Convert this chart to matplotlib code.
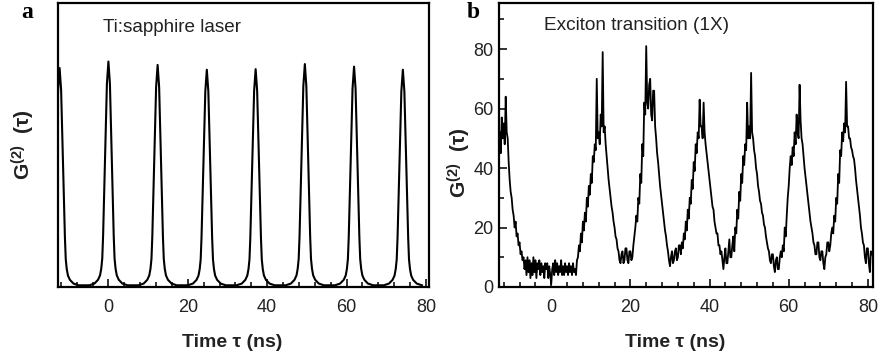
import matplotlib.pyplot as plt
import numpy as np
from matplotlib.ticker import MultipleLocator

plt.rcParams['mathtext.fontset'] = 'custom'
plt.rcParams['mathtext.bf'] = 'Liberation Sans:bold'
plt.rcParams['mathtext.rm'] = 'Liberation Sans'

# panel a: Ti:sapphire laser
peak_t = [-12.3, 0.0, 12.4, 24.8, 37.1, 49.5, 61.9, 74.2]
peak_h = [77.1, 79.4, 78.2, 76.5, 76.7, 78.5, 77.6, 76.5]
# one peak profile (offset in ns, fraction of peak height)
prof_dt = [-4.8, -3.5, -2.6, -2.1, -1.8, -1.55, -1.34, -1.13, -0.8, -0.38, 0.0,
           0.38, 0.8, 1.13, 1.34, 1.55, 1.8, 2.1, 2.6, 3.5, 4.8]
prof_f = [0.0, 0.008, 0.025, 0.045, 0.075, 0.12, 0.22, 0.37, 0.6, 0.9, 1.0,
          0.9, 0.6, 0.37, 0.22, 0.12, 0.075, 0.045, 0.025, 0.008, 0.0]
base_a = 0.6

# panel b: exciton transition (1X), sampled every 0.25 ns from -13 ns
t_b = np.arange(-13.0, 81.01, 0.25)
g_b = [52, 45, 57, 50, 55, 48, 64, 52,
       50, 42, 36, 32, 30, 26, 24, 20,
       22, 17, 18, 14, 15, 11, 12, 9,
       10, 6, 9, 4, 10, 5, 9, 3,
       8, 4, 10, 5, 9, 3, 8, 6,
       9, 4, 8, 5, 7, 3, 8, 6,
       8, 3, 7, 4, 1, 6, 8, 4,
       9, 5, 8, 4, 7, 5, 9, 4,
       7, 4, 8, 5, 7, 4, 8, 5,
       7, 4, 8, 5, 6, 4, 9, 10,
       14, 12, 18, 15, 22, 19, 25, 22,
       30, 27, 34, 31, 38, 35, 44, 42,
       48, 46, 70, 50, 52, 48, 58, 54,
       79, 52, 54, 48, 44, 40, 36, 33,
       30, 27, 25, 22, 20, 17, 16, 13,
       12, 9, 8, 11, 12, 8, 9, 13,
       13, 9, 8, 12, 12, 9, 10, 14,
       17, 20, 24, 22, 30, 28, 38, 35,
       48, 44, 62, 58, 81, 62, 60, 68,
       70, 58, 56, 66, 66, 54, 50, 45,
       42, 38, 34, 31, 28, 25, 22, 19,
       17, 14, 12, 9, 7, 10, 12, 8,
       9, 12, 13, 9, 10, 14, 14, 11,
       15, 13, 18, 16, 22, 19, 26, 23,
       30, 28, 36, 33, 42, 39, 48, 45,
       52, 50, 63, 54, 54, 50, 62, 52,
       48, 45, 42, 39, 36, 33, 30, 27,
       26, 22, 20, 18, 18, 14, 14, 11,
       12, 9, 6, 10, 13, 8, 8, 12,
       16, 10, 10, 14, 17, 12, 20, 18,
       26, 23, 32, 29, 38, 35, 44, 41,
       48, 46, 62, 50, 54, 50, 72, 52,
       50, 46, 44, 40, 38, 34, 32, 29,
       28, 25, 24, 21, 20, 17, 15, 13,
       12, 9, 8, 11, 11, 7, 5, 9,
       10, 6, 6, 10, 12, 10, 14, 12,
       20, 17, 24, 30, 34, 40, 44, 41,
       47, 44, 52, 48, 58, 52, 50, 68,
       56, 50, 48, 44, 40, 37, 34, 31,
       28, 25, 22, 20, 18, 15, 14, 11,
       11, 15, 15, 10, 9, 12, 12, 8,
       6, 10, 11, 15, 15, 12, 14, 18,
       20, 18, 24, 22, 30, 28, 38, 35,
       46, 44, 52, 49, 55, 52, 69, 54,
       54, 50, 50, 47, 46, 44, 43, 40,
       36, 33, 30, 27, 24, 20, 18, 15,
       14, 10, 8, 13, 13, 8, 5, 12,
       11]

ta = []
ga = []
for c, h in zip(peak_t, peak_h):
    for dt, f in zip(prof_dt, prof_f):
        ta.append(c + dt)
        ga.append(base_a + f * (h - base_a))

fig = plt.figure(figsize=(8.83, 3.57), dpi=100)
axa = fig.add_axes([0.0657, 0.1961, 0.4202, 0.7955])
axb = fig.add_axes([0.5651, 0.1961, 0.4236, 0.7955])

axa.plot(ta, ga, color='black', lw=1.5)
axb.plot(t_b, g_b, color='black', lw=1.3)

axa.set_xlim(-12.7, 80.8)
axa.set_ylim(0, 100)
axb.set_xlim(-13.2, 81.3)
axb.set_ylim(0, 95.5)

tickfont = ['Liberation Sans Narrow', 'Liberation Sans', 'DejaVu Sans']
for ax in (axa, axb):
    for s in ax.spines.values():
        s.set_linewidth(1.6)
    ax.xaxis.set_major_locator(MultipleLocator(20))
    ax.xaxis.set_minor_locator(MultipleLocator(4))
    ax.tick_params(axis='both', which='major', direction='in', length=6,
                   width=1.3, labelsize=13, colors='#222222')
    ax.tick_params(axis='both', which='minor', direction='in', length=3.5,
                   width=1.1)
    ax.tick_params(axis='x', which='major', pad=9)
    ax.tick_params(axis='y', which='major', pad=4)
    for lab in ax.get_xticklabels() + ax.get_yticklabels():
        lab.set_family(tickfont)
    ax.set_xlabel('Time τ (ns)', fontsize=14, fontweight='bold',
                  family='Liberation Sans', color='#222222')

axa.set_yticks([])
axb.yaxis.set_major_locator(MultipleLocator(20))
axb.yaxis.set_minor_locator(MultipleLocator(10))
for lab in axb.get_yticklabels():
    lab.set_family(tickfont)

ylab = r'$\mathbf{G^{(2)}}\;\;\mathbf{(\tau)}$'
axa.set_ylabel(ylab, fontsize=15, color='#222222')
axb.set_ylabel(ylab, fontsize=15, color='#222222')
axa.xaxis.set_label_coords(0.469, -0.165)
axb.xaxis.set_label_coords(0.47, -0.165)
axa.yaxis.set_label_coords(-0.057, 0.5)
axb.yaxis.set_label_coords(-0.07, 0.437)

fig.text(103 / 883, 1 - 28 / 357, 'Ti:sapphire laser', fontsize=13.6,
         family='Liberation Sans', color='#222222', va='center')
fig.text(544 / 883, 1 - 25 / 357, 'Exciton transition (1X)', fontsize=13.7,
         family='Liberation Sans', color='#222222', va='center')
fig.text(21 / 883, 1 - 18 / 357, 'a', fontsize=17, fontweight='bold',
         family='Liberation Serif', va='baseline')
fig.text(467 / 883, 1 - 18 / 357, 'b', fontsize=17, fontweight='bold',
         family='Liberation Serif', va='baseline')

fig.savefig('out.png', dpi=100)
